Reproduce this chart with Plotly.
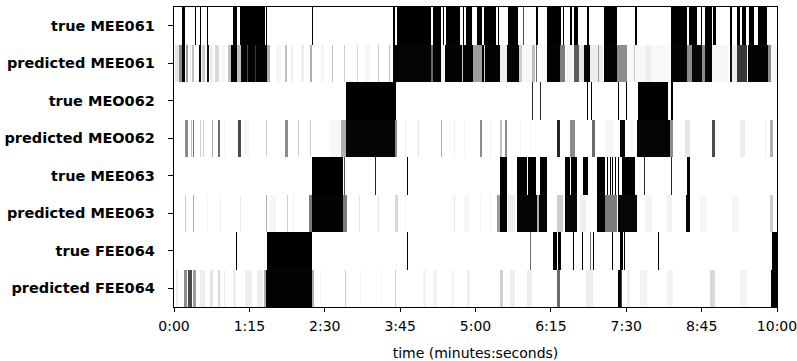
import numpy as np
import plotly.graph_objects as go

# ---------------- data (seconds, value) ----------------
row_labels = ["true MEE061", "predicted MEE061", "true MEO062", "predicted MEO062",
              "true MEE063", "predicted MEE063", "true FEE064", "predicted FEE064"]

tick_seconds = [0, 75, 150, 225, 300, 375, 450, 525, 600]
tick_labels = ["0:00", "1:15", "2:30", "3:45", "5:00", "6:15", "7:30", "8:45", "10:00"]

true_MEE061 = [(8.0, 11.0, 1), (20.3, 21.3, 1), (25.9, 26.9, 1), (33.0, 34.0, 1), (58.4, 62.7, 1),
               (66.0, 90.8, 1), (91.8, 92.6, 1), (136.8, 137.8, 1), (218.0, 219.5, 1),
               (221.9, 256.0, 1), (257.4, 266.0, 1), (268.0, 269.0, 1), (271.0, 284.3, 1),
               (287.3, 288.3, 1), (290.5, 296.5, 1), (301.5, 305.8, 1), (308.2, 320.4, 1),
               (322.4, 323.7, 1), (332.3, 342.3, 1), (347.0, 348.0, 0.7), (360.2, 361.8, 1),
               (371.1, 385.4, 1), (387.0, 388.0, 1), (394.3, 396.0, 1), (398.7, 402.0, 1),
               (410.4, 412.8, 1), (427.9, 441.1, 1), (458.7, 460.3, 1), (495.2, 510.1, 1),
               (512.7, 520.0, 1), (524.4, 525.7, 1), (528.3, 535.0, 1), (536.6, 539.0, 1),
               (553.2, 554.9, 1), (559.9, 563.2, 1), (564.9, 568.9, 1), (572.1, 577.4, 1),
               (580.8, 590.7, 1)]

pred_MEE061 = [(1, 4.7, 0.2), (5, 7.3, 0.5), (7.3, 11.2, 0.95), (12, 14, 0.45), (16, 17, 0.15),
               (18, 20, 0.35), (24.6, 27.2, 0.9), (27.9, 31.1, 0.3), (32.3, 34.8, 0.85),
               (36, 39, 0.15), (41.1, 44.5, 0.25), (48, 51, 0.1), (53.7, 56.7, 0.35),
               (57, 62.7, 0.95), (62.7, 67, 0.35), (67, 92.5, 0.95), (72.3, 73.3, 0.7),
               (80.3, 81.3, 0.75), (92.5, 95.5, 0.4), (101, 106, 0.1), (110.7, 112.4, 0.35),
               (116, 118, 0.15), (126, 129, 0.15), (135.6, 137.3, 0.4), (146, 149, 0.12),
               (157.7, 158.7, 0.35), (169.3, 170.3, 0.3), (182.6, 183.6, 0.25), (190, 195, 0.1),
               (202.5, 203.5, 0.3), (214.1, 215.1, 0.35), (218, 222.9, 0.95), (222.9, 255.7, 0.92),
               (255.7, 257.7, 0.6), (257.7, 266, 0.95), (266, 270, 0.1), (270, 286.6, 0.95),
               (286.6, 288, 0.3), (288, 298.2, 0.95), (298.2, 306.5, 0.45), (306.5, 324.4, 0.95),
               (308.2, 309, 0.3), (324.4, 331.3, 0.15), (331.3, 343, 0.95), (343, 346.3, 0.3),
               (346.3, 356.3, 0.08), (356.3, 359.2, 0.35), (360.7, 361.7, 0.6), (362, 371, 0.05),
               (371, 384.4, 0.95), (384.4, 389, 0.55), (390, 397.7, 0.12), (398.7, 402.7, 0.65),
               (402.7, 407.6, 0.2), (407.6, 414, 0.9), (414, 426.8, 0.15), (421.4, 422.4, 0.45),
               (427.9, 441.1, 0.95), (441.1, 450.7, 0.5), (450.7, 495.2, 0.08), (458.2, 459.2, 0.3),
               (470, 475, 0.15), (495.2, 510.1, 0.95), (510.1, 515.1, 0.5), (515.1, 525, 0.9),
               (525, 528.3, 0.5), (528.3, 535.6, 0.95), (535.6, 551.5, 0.1), (553.2, 554.9, 0.85),
               (554.9, 559.9, 0.15), (559.9, 569.9, 0.75), (571.4, 591.3, 0.95), (591.3, 594.7, 0.5),
               (594.7, 600, 0.1)]

true_MEO062 = [(170.8, 220.6, 1), (356.2, 357.2, 0.8), (364.5, 365.5, 0.8), (411.0, 412.0, 1),
               (414.5, 415.5, 1), (441.3, 442.3, 1), (450.0, 451.0, 1), (461.4, 491.8, 1),
               (494.5, 496.8, 1)]

pred_MEO062 = [(11, 14, 0.5), (17.1, 18.1, 0.35), (18.9, 19.9, 0.6), (25.4, 26.4, 0.3),
               (28.4, 29.4, 0.3), (37.8, 38.8, 0.4), (44, 45.8, 0.6), (50, 51, 0.1),
               (64, 66.4, 0.7), (70, 75, 0.1), (91.7, 92.7, 0.3), (110.4, 113.7, 0.5),
               (122.9, 123.9, 0.3), (135.3, 136.6, 0.3), (155, 165, 0.08), (166.2, 170.8, 0.4),
               (170.8, 219.6, 0.92), (219.6, 221.9, 0.5), (229.3, 230.3, 0.15), (242.3, 243.3, 0.2),
               (265.5, 266.5, 0.4), (279.1, 280.1, 0.15), (289, 290, 0.12), (304.5, 306.2, 0.5),
               (314, 315, 0.12), (324.4, 326, 0.35), (329.3, 331, 0.5), (344, 345, 0.1),
               (354, 355, 0.1), (380.8, 384.1, 0.8), (394, 399, 0.5), (415.6, 418.9, 0.6),
               (429, 438, 0.1), (443.8, 448.7, 0.9), (455, 457, 0.1), (460.4, 493.5, 0.92),
               (493.5, 496.5, 0.5), (508.5, 513.4, 0.2), (535, 538.3, 0.7), (563, 568, 0.15),
               (588, 589, 0.15), (593, 596.3, 0.4)]

true_MEE063 = [(137.3, 168.2, 1), (169.1, 170.1, 0.7), (200.0, 201.0, 0.8), (231.6, 232.6, 1),
               (324.4, 331.6, 1), (341.6, 350.9, 1), (351.9, 359.9, 1), (364.2, 371.4, 1),
               (389.3, 394.0, 1), (395.7, 401.0, 1), (407.2, 412.2, 1), (420.6, 428.5, 1),
               (430.3, 431.3, 1), (433.3, 434.3, 1), (435.8, 436.8, 1), (438.8, 439.8, 1),
               (441.8, 442.8, 1), (446.0, 458.7, 1), (467.6, 468.6, 0.8), (495.0, 496.0, 0.8),
               (510.1, 513.4, 1)]

pred_MEE063 = [(10.5, 11.5, 0.3), (18.4, 19.4, 0.4), (32.3, 33.3, 0.12), (45.3, 46.3, 0.15),
               (66.2, 67.2, 0.15), (91.7, 92.7, 0.4), (96, 101, 0.1), (112.6, 113.6, 0.3),
               (117.9, 118.9, 0.12), (134, 137.3, 0.55), (137.3, 168.2, 0.95), (168.2, 172.1, 0.55),
               (184.3, 185.3, 0.2), (202.5, 203.5, 0.2), (219.9, 222.9, 0.25), (230, 231, 0.1),
               (278.8, 279.8, 0.2), (289, 294, 0.1), (304, 305, 0.1), (314, 315, 0.12),
               (321.4, 324.4, 0.45), (324.4, 331.6, 0.95), (332.5, 339.5, 0.15), (341, 360.9, 0.92),
               (360.9, 363.5, 0.4), (363.5, 370.8, 0.95), (380.8, 387, 0.3), (389, 400.7, 0.9),
               (404, 410, 0.15), (420.6, 428.8, 0.95), (428.8, 440.5, 0.55), (442.1, 460.4, 0.9),
               (469, 476, 0.12), (491, 496, 0.12), (509.4, 513.4, 0.95), (523, 530, 0.1),
               (555, 562, 0.1), (593, 596, 0.3)]

true_FEE064 = [(61.7, 62.7, 1), (92.5, 136.8, 1), (231.6, 232.6, 1), (354.6, 355.6, 0.6),
               (377.4, 381.1, 1), (382.1, 385.4, 1), (396.8, 397.8, 1), (406.0, 407.0, 1),
               (414.0, 415.0, 0.6), (416.8, 417.8, 1), (435.6, 436.6, 1), (443.8, 446.3, 1),
               (448.0, 449.0, 1), (481.4, 482.4, 1), (595.5, 600.0, 1)]

pred_FEE064 = [(2, 4, 0.15), (9.3, 12.6, 0.5), (14.2, 17.6, 0.7), (18.9, 21.9, 0.45),
               (25.9, 30.8, 0.15), (35.8, 38.8, 0.2), (43.8, 45.8, 0.25), (49.5, 50.5, 0.15),
               (58.5, 61.5, 0.15), (70.6, 77.6, 0.15), (82.6, 88.6, 0.15), (89.6, 92.2, 0.4),
               (92.2, 137.0, 0.95), (137.0, 139.3, 0.4), (145.5, 146.5, 0.1), (169.8, 171.4, 0.3),
               (185.5, 186.5, 0.1), (205.5, 206.5, 0.1), (219.6, 221.2, 0.3), (247.8, 250.8, 0.12),
               (257.7, 261.7, 0.12), (275.6, 279.6, 0.1), (291.5, 294.5, 0.15), (324.4, 327.4, 0.3),
               (334.3, 339.3, 0.15), (351.2, 356.2, 0.15), (380.8, 384.1, 0.6), (410, 417, 0.15),
               (441.3, 441.8, 0.6), (441.8, 444.5, 0.95), (444.5, 445.8, 0.7), (450.7, 453.7, 0.15),
               (463.7, 470.7, 0.12), (490.5, 496.5, 0.12), (533.3, 538.3, 0.25), (563, 570, 0.12),
               (594.7, 600.0, 0.95)]

rows_data = [true_MEE061, pred_MEE061, true_MEO062, pred_MEO062,
             true_MEE063, pred_MEE063, true_FEE064, pred_FEE064]

# ---------------- build grid ----------------
step = 0.5
x_centers = np.arange(step / 2, 600, step)
z = np.zeros((len(row_labels), x_centers.size))
for i, segs in enumerate(rows_data):
    for s0, s1, v in segs:
        mask = (x_centers >= s0) & (x_centers < s1 + 0.01)
        z[i, mask] = v

gray_scale = [[0.0, "#ffffff"], [0.1, "#f6f6f6"], [0.2, "#e6e6e6"], [0.35, "#c0c0c0"],
              [0.5, "#8c8c8c"], [0.7, "#4a4a4a"], [0.88, "#080808"], [1.0, "#000000"]]

fig = go.Figure(go.Heatmap(
    z=z, x=x_centers, y=list(range(len(row_labels))),
    colorscale=gray_scale, zmin=0, zmax=1,
    showscale=False, hoverinfo="skip"))

fig.update_layout(
    width=797, height=361,
    margin=dict(l=174, r=20, t=7, b=54, autoexpand=False),
    paper_bgcolor="white", plot_bgcolor="white",
    font=dict(family="DejaVu Sans", size=14, color="black"),
)
fig.update_xaxes(
    range=[0, 600], tickmode="array", tickvals=tick_seconds, ticktext=tick_labels,
    ticks="outside", ticklen=4, tickwidth=1, tickcolor="black",
    showline=True, linecolor="black", linewidth=1.2, mirror=True,
    showgrid=False, zeroline=False, automargin=False, ticklabeloverflow="allow",
    ticklabelstandoff=2,
    title=dict(text="time (minutes:seconds)", font=dict(size=14), standoff=16),
    tickfont=dict(size=14),
)
fig.update_yaxes(
    range=[7.5, -0.5], tickmode="array", tickvals=list(range(len(row_labels))),
    ticktext=["<b>" + t + "</b>" for t in row_labels],
    ticks="outside", ticklen=5, tickwidth=1, tickcolor="black",
    showline=True, linecolor="black", linewidth=1.2, mirror=True,
    showgrid=False, zeroline=False, tickfont=dict(size=14.5), automargin=False,
    ticklabelstandoff=10, ticklabeloverflow="allow",
)

# remove the default page margin so the 797x361 figure fills the window exactly
fig.write_html("out.html", config={"displayModeBar": False, "staticPlot": True},
               post_script="document.body.style.margin='0';")
